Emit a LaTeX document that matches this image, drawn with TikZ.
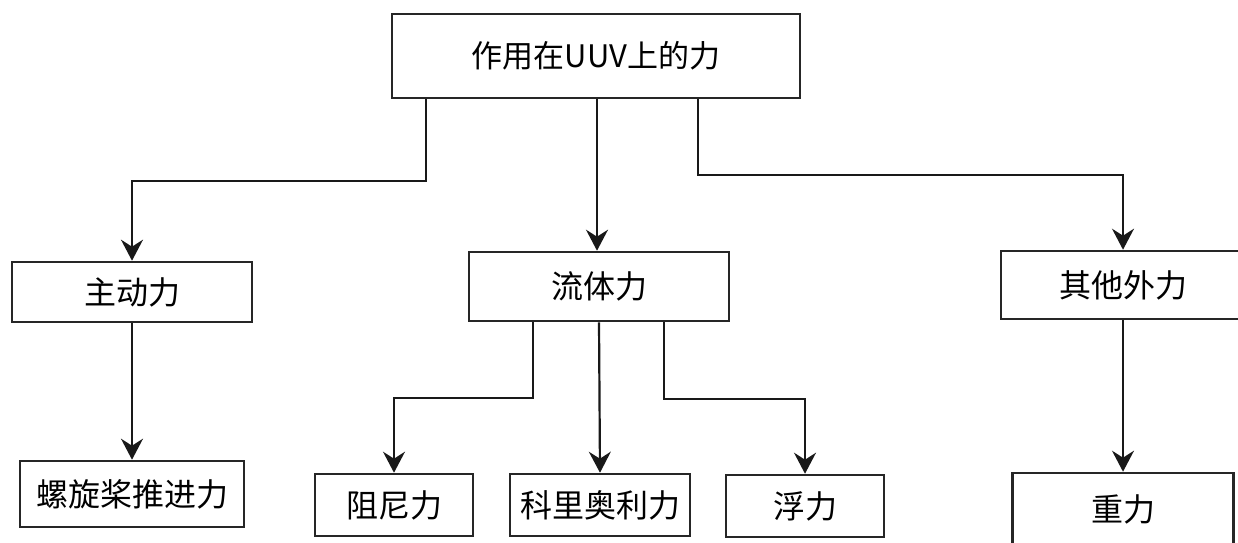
\documentclass[tikz,border=0pt]{standalone}
\usepackage{fontspec}
\newfontfamily\cjk{Noto Sans CJK SC}
\usetikzlibrary{arrows.meta}
\begin{document}
\begin{tikzpicture}[x=1pt,y=-1pt,
  box/.style={draw=black!85,line width=2.6pt,rectangle,inner sep=0pt,
    font=\cjk\fontsize{32}{32}\selectfont},
  arr/.style={draw=black!90,line width=2.2pt,-{Stealth[length=21pt,width=22pt,inset=7pt]}}]
\useasboundingbox (0,0) rectangle (1238,542);
\fill[white] (0,0) rectangle (1238,542);
\node[box,minimum width=408pt,minimum height=84pt,font=\cjk\fontsize{31}{31}\selectfont] (top) at (596,56) {作用在UUV上的力};
\node[box,minimum width=240pt,minimum height=60pt] (zhu) at (132,292) {主动力};
\node[box,minimum width=260pt,minimum height=69pt] (liu) at (599,286.5) {流体力};
\node[box,minimum width=244pt,minimum height=68pt] (qita) at (1123,285) {其他外力};
\node[box,minimum width=224pt,minimum height=66pt] (luo) at (132,494) {螺旋桨推进力};
\node[box,minimum width=158pt,minimum height=62pt] (zuni) at (394,505) {阻尼力};
\node[box,minimum width=180pt,minimum height=62pt] (kl) at (600,505) {科里奥利力};
\node[box,minimum width=158pt,minimum height=62pt] (fu) at (805,506) {浮力};
\node[box,minimum width=221pt,minimum height=72pt] (zhong) at (1123,509) {重力};
\draw[arr] ([xshift=-170pt]top.south) -- ++(0,82) -| (zhu.north);
\draw[arr] ([xshift=1pt]top.south) -- ([xshift=1pt]top.south |- liu.north);
\draw[arr] ([xshift=102pt]top.south) -- ++(0,76) -| (qita.north);
\draw[arr] (zhu.south) -- (luo.north);
\draw[arr] ([xshift=-66pt]liu.south) -- ++(0,76) -| (zuni.north);
\draw[arr] (liu.south) -- (kl.north);
\draw[arr] ([xshift=65pt]liu.south) -- ++(0,77) -| (fu.north);
\draw[arr] (qita.south) -- (zhong.north);
\end{tikzpicture}
\end{document}
